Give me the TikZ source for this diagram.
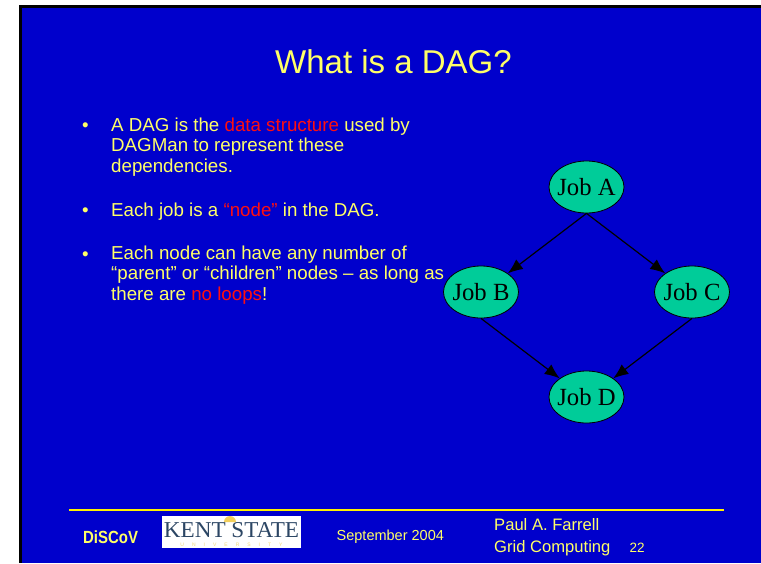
\documentclass[tikz,border=0pt]{standalone}
\usepackage{fontspec}
\setmainfont{Liberation Sans}
\newfontfamily\timesf{Liberation Serif}
\usetikzlibrary{shapes.geometric,arrows.meta}
\definecolor{slidebg}{HTML}{0000CC}
\definecolor{paleyel}{HTML}{FFFF66}
\definecolor{hotred}{HTML}{FF0F0F}
\definecolor{jobfill}{HTML}{00CC99}
\definecolor{logoink}{HTML}{2C4664}
\definecolor{logogold}{HTML}{F0D878}
\definecolor{logosun}{HTML}{F2CF5B}
\newcommand{\hot}[1]{\textcolor{hotred}{#1}}
\newcommand{\jobtext}[1]{\raisebox{-1pt}{#1}}
\tikzset{
  jobnode/.style={ellipse,draw=black,line width=0.8pt,fill=jobfill,minimum width=75pt,minimum height=52pt,inner xsep=-6pt,inner ysep=0pt,text=black,font=\timesf\fontsize{24.7}{25}\selectfont},
  dep/.style={draw=black,line width=1.2pt,-{Latex[length=15pt,width=12pt]}},
  bodytext/.style={anchor=base west,inner sep=0pt,align=left,text=paleyel,font=\fontsize{18.72}{20.2}\selectfont},
  foot/.style={anchor=base west,inner sep=0pt,text=paleyel,font=\fontsize{14.5}{14.5}\selectfont}
}
\begin{document}
\begin{tikzpicture}[x=1pt,y=-1pt]
\useasboundingbox (0,0) rectangle (761,563);
\fill[white] (0,0) rectangle (761,563);
\fill[black] (19,5) rectangle (761,563);
\fill[slidebg] (22,8) rectangle (761,563);
\node[anchor=base,inner sep=0pt,text=paleyel,font=\fontsize{33}{33}\selectfont] (title) at (393.5,73) {What is a DAG?};
\node[bodytext] (b1) at (82,131) {•};
\node[bodytext] (p1) at (111,172) {A DAG is the \hot{data structure} used by\\DAGMan to represent these\\dependencies.};
\node[bodytext] (b2) at (82,216) {•};
\node[bodytext] (p2) at (111,216) {Each job is a \hot{“node”} in the DAG.};
\node[bodytext] (b3) at (82,260) {•};
\node[bodytext] (p3) at (111,300) {Each node can have any number of\\“parent” or “children” nodes – as long as\\there are \hot{no loops}!};
\node[jobnode] (a) at (586.5,187) {\jobtext{Job A}};
\node[jobnode] (b) at (481,292) {\jobtext{Job B}};
\node[jobnode] (c) at (692,292) {\jobtext{Job C}};
\node[jobnode] (d) at (586.5,397) {\jobtext{Job D}};
\draw[dep] (a.south) -- (b.north east);
\draw[dep] (a.south) -- (c.north west);
\draw[dep] (b.south) -- (d.north west);
\draw[dep] (c.south) -- (d.north east);
\coordinate (ruleL) at (69,510);
\coordinate (ruleR) at (723.5,510);
\draw[yellow,line width=2.6pt] (ruleL) -- (ruleR);
\node[anchor=base west,inner sep=0pt,text=paleyel,font=\bfseries\fontsize{17.6}{17.6}\selectfont,xscale=0.85] (discov) at (83,543) {DiSCoV};
\fill[white] (162,516) rectangle (301,548);
\fill[logosun] (224,522) arc[start angle=180,end angle=0,radius=6pt] -- cycle;
\node[anchor=base,inner sep=0pt,text=logoink,font=\timesf\fontsize{22.7}{22.7}\selectfont,xscale=1.02] (logo) at (231.5,537) {KENT STATE};
\node[anchor=base,inner sep=0pt,text=logogold,font=\fontsize{5}{5}\selectfont] (logou) at (231.5,546.5) {U\hspace{8pt}N\hspace{8pt}I\hspace{8pt}V\hspace{8pt}E\hspace{8pt}R\hspace{8pt}S\hspace{8pt}I\hspace{8pt}T\hspace{8pt}Y};
\node[foot] (date) at (336.5,540) {September 2004};
\node[foot,font=\fontsize{16.6}{16.6}\selectfont] (auth) at (494,530) {Paul A. Farrell};
\node[foot,font=\fontsize{16.6}{16.6}\selectfont] (course) at (494,552) {Grid Computing};
\node[foot,font=\fontsize{13.5}{13.5}\selectfont] (num) at (629.5,552) {22};
\end{tikzpicture}
\end{document}
